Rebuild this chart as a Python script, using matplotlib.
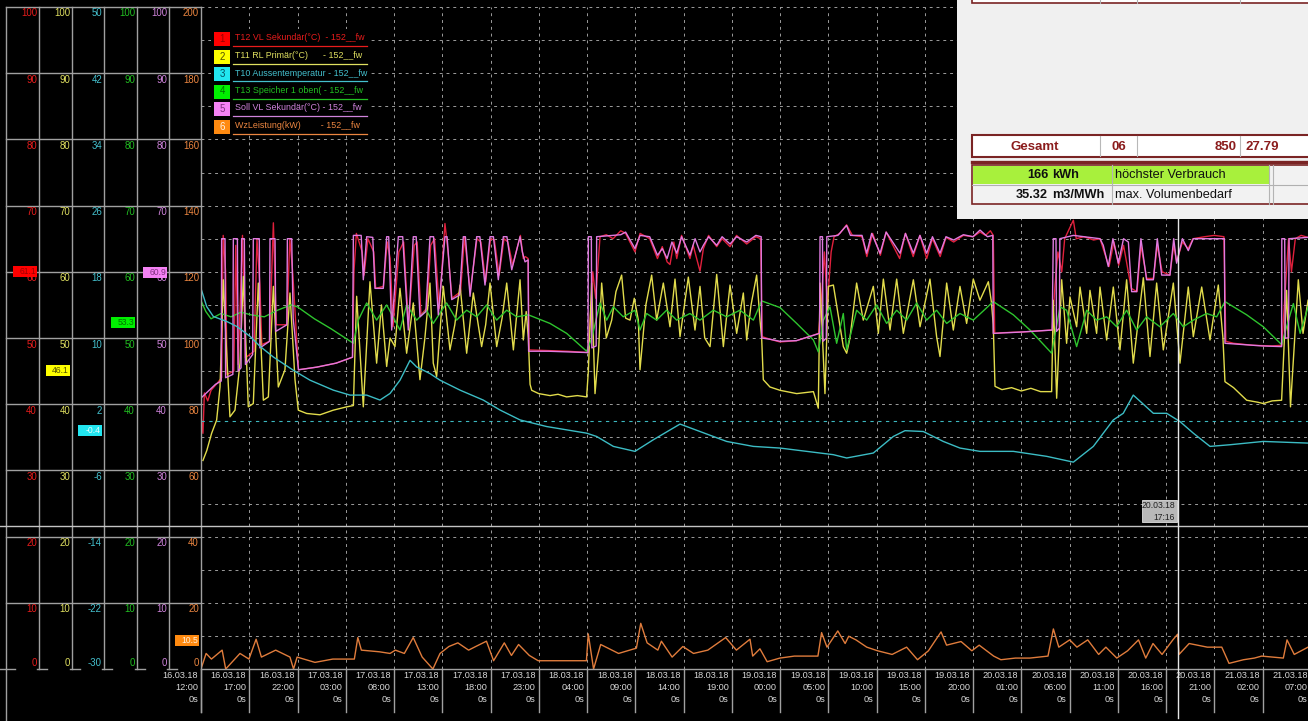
import matplotlib
matplotlib.use("Agg")
import matplotlib.pyplot as plt
from matplotlib.patches import Rectangle
from matplotlib.font_manager import FontProperties, findfont

# ---------------- data ----------------
series_labels = ["T12 VL Sekundär(°C)  - 152__fw",
                 "T11 RL Primär(°C)      - 152__fw",
                 "T10 Aussentemperatur - 152__fw",
                 "T13 Speicher 1 oben( - 152__fw",
                 "Soll VL Sekundär(°C) - 152__fw",
                 "WzLeistung(kW)        - 152__fw"]

tick_hours = list(range(0, 120, 5))
tick_dates = (["16.03.18"] * 3 + ["17.03.18"] * 5 + ["18.03.18"] * 4 +
              ["19.03.18"] * 5 + ["20.03.18"] * 5 + ["21.03.18"] * 2)
tick_times = ["12:00", "17:00", "22:00", "03:00", "08:00", "13:00", "18:00", "23:00",
              "04:00", "09:00", "14:00", "19:00", "00:00", "05:00", "10:00", "15:00",
              "20:00", "01:00", "06:00", "11:00", "16:00", "21:00", "02:00", "07:00"]

red_ticks = [0, 10, 20, 30, 40, 50, 60, 70, 80, 90, 100]
yel_ticks = [0, 10, 20, 30, 40, 50, 60, 70, 80, 90, 100]
cyan_ticks = [-30, -22, -14, -6, 2, 10, 18, 26, 34, 42, 50]
green_ticks = [0, 10, 20, 30, 40, 50, 60, 70, 80, 90, 100]
violet_ticks = [0, 10, 20, 30, 40, 50, 60, 70, 80, 90, 100]
orange_ticks = [0, 20, 40, 60, 80, 100, 120, 140, 160, 180, 200]

current_vals = [61.1, 46.1, -0.4, 53.3, 60.9, 10.5]
current_texts = ["61.1", "46.1", "-0.4", "53.3", "60.9", "10.5"]

cursor_hour = 101.27
cursor_label = ["20.03.18", "17:16"]

gesamt_row = ["Gesamt", "06", "850", "27.79"]
summary_rows = [["166", "kWh", "höchster Verbrauch"],
                ["35.32", "m3/MWh", "max. Volumenbedarf"]]

# (hours since 16.03.18 12:00, value)
red_pts = [(0.05,37.6),(0.2,35.6),(0.35,41.7),(0.7,40.5),(1.04,42.1),(1.7,43.2),(2.14,44.0),(2.3,65.5),(2.55,60.0),(2.7,44.5),(3.4,45.0),(3.6,64.0),(3.85,46.0),(4.3,65.5),(4.6,47.0),(5.5,48.0),(5.8,65.0),(6.1,58.0),(6.3,49.0),(7.1,49.5),(7.5,67.4),(7.8,52.0),(8.9,52.0),(9.2,65.0),(9.5,60.0),(9.9,50.0),(10.1,45.2),(12.0,45.6),(14.0,46.2),(15.7,47.1),
(15.85,60.0),(16.1,65.8),(16.7,63.0),(16.9,59.5),(17.3,65.0),(17.9,63.0),(18.1,57.5),(18.9,57.8),(19.3,64.5),(19.6,62.0),(19.9,51.7),(20.5,63.0),(21.0,64.5),(21.5,52.0),(22.1,64.0),(22.4,64.5),(22.8,53.5),(23.4,54.5),(23.8,64.0),(24.2,65.0),(24.7,54.5),(25.28,67.3),(25.6,63.0),(26.0,56.0),(26.9,57.0),(27.3,65.3),(27.9,57.0),(28.6,65.0),(29.0,64.5),(29.5,58.5),(30.0,65.0),(30.4,64.8),(30.9,59.5),(31.4,65.0),(31.8,64.5),(32.3,61.0),(33.1,65.5),(33.4,62.0),(33.6,62.3),(33.9,62.0),(34.0,48.2),
(36.0,48.1),(38.0,48.0),(40.1,47.8),
(40.3,52.0),(40.6,60.0),(40.9,56.0),(41.35,65.3),(42.0,65.6),(42.7,65.0),(43.5,66.2),(44.0,65.8),(44.97,63.0),(45.5,65.8),(46.5,65.0),(47.3,62.0),(47.8,63.8),(48.3,61.5),(48.6,61.1),(49.0,64.5),(49.3,62.0),(49.8,65.5),(50.67,62.0),(51.0,64.0),(51.71,60.1),(52.06,63.5),(52.6,65.5),(53.44,63.8),(54.0,65.0),(54.82,63.8),(55.5,65.5),(56.55,64.2),(57.5,65.3),(58.0,65.0),(58.15,50.2),
(59.0,49.8),(60.0,49.4),(61.7,49.6),(63.0,50.2),(64.0,50.7),
(64.3,56.0),(64.6,63.0),(64.9,55.0),(65.3,63.0),(65.6,65.3),(66.2,65.8),(66.9,67.1),(67.5,65.5),(68.5,65.3),(69.0,62.3),(69.6,65.8),(70.4,62.5),(71.0,66.0),(72.4,62.0),(73.0,65.8),(73.8,62.3),(74.5,65.5),(75.2,62.0),(75.8,65.0),(76.6,62.3),(77.2,65.2),(78.0,64.5),(79.0,65.5),(80.0,65.3),(80.73,66.0),(81.3,65.5),(81.8,66.2),(82.1,65.5),(82.25,50.7),
(83.0,50.8),(85.0,50.9),(87.0,51.1),(88.2,51.2),
(88.5,58.0),(88.8,63.0),(89.2,60.0),(89.5,65.0),(90.4,67.8),(90.7,65.0),(91.5,65.3),(92.5,64.8),(93.16,65.0),(93.6,63.0),(94.1,60.8),(94.6,64.5),(95.1,61.0),(95.6,64.0),(96.4,57.5),(97.0,57.0),(97.4,64.0),(98.0,59.0),(98.7,59.0),(99.1,64.0),(99.6,60.0),(100.4,59.5),(100.8,64.0),(101.1,61.5),(101.7,64.5),(102.3,63.5),(102.8,65.0),(104.0,65.3),(105.0,65.5),(106.0,65.3),(106.2,49.5),
(107.0,49.2),(109.0,48.9),(111.0,48.8),(112.0,48.9),(112.4,58.0),(112.7,65.0),(113.0,60.0),(113.4,65.0),(114.0,65.5),(114.72,65.2)]

violet_pts = [(0.05,41.0),(1.5,43.0),(2.1,43.5),(2.14,65.0),(2.49,65.0),(2.55,44.0),(3.3,44.5),(3.35,65.0),(3.77,65.0),(3.85,45.0),(4.15,45.5),(4.21,65.0),(4.49,65.0),(4.6,46.0),(5.35,47.5),(5.42,65.0),(6.04,65.0),(6.1,48.5),(7.1,49.5),(7.15,65.0),(7.67,65.0),(7.75,51.0),(8.9,52.0),(8.95,65.0),(9.4,65.0),(9.55,53.0),(10.05,46.0),(10.1,45.2),(12.0,45.6),(14.0,46.2),(15.7,47.1),
(15.79,65.5),(16.6,65.5),(16.82,58.8),(17.17,65.3),(17.8,65.2),(18.03,57.5),(18.89,57.5),(19.24,65.3),(19.45,65.3),(19.76,51.2),(20.45,65.3),(20.9,65.3),(21.48,51.2),(22.0,65.3),(22.3,65.3),(22.69,53.2),(23.3,54.0),(23.73,65.3),(24.1,65.3),(24.59,53.5),(25.28,65.3),(25.5,65.3),(25.98,55.8),(26.8,56.5),(27.18,65.3),(27.4,65.3),(27.88,56.3),(28.57,65.3),(28.9,65.3),(29.43,58.0),(29.95,65.3),(30.3,65.3),(30.81,58.8),(31.33,65.3),(31.7,65.3),(32.2,60.3),(33.06,65.3),(33.3,63.0),(33.58,61.5),(33.9,61.8),(33.95,48.0),
(36.0,48.0),(38.0,47.9),(40.1,47.8),
(40.14,65.3),(40.45,65.3),(40.5,48.5),(40.95,48.8),(41.0,65.3),(43.5,65.6),(44.0,66.0),(44.97,63.5),(45.5,65.5),(46.5,65.3),(47.3,62.5),(47.8,63.5),(48.3,62.0),(48.8,64.5),(49.3,62.8),(49.8,65.3),(50.67,62.5),(51.2,65.0),(51.71,63.0),(52.06,64.0),(52.6,65.3),(53.44,64.0),(54.0,65.3),(54.82,64.2),(55.5,65.3),(56.55,64.5),(57.5,65.5),(58.05,65.3),(58.1,50.0),
(59.0,49.8),(60.0,49.5),(61.7,49.6),(63.0,50.2),(64.1,50.7),
(64.15,65.3),(64.4,65.3),(64.45,49.5),(64.8,50.0),(64.85,65.3),(66.0,65.5),(66.9,67.0),(67.3,65.5),(68.5,65.5),(68.98,62.8),(69.5,65.8),(70.37,62.8),(71.0,66.0),(72.44,62.8),(73.0,65.8),(73.82,62.8),(74.5,65.5),(75.2,62.8),(75.8,65.3),(76.58,62.8),(77.2,65.3),(78.0,64.8),(79.0,65.6),(80.0,65.3),(80.73,66.3),(81.5,65.3),(82.05,65.5),(82.1,50.7),
(85.0,50.9),(88.2,51.2),
(88.32,65.0),(88.6,65.0),(88.65,51.0),(88.95,51.5),(89.0,65.0),(90.4,65.5),(91.5,65.3),(93.16,65.0),(93.5,64.0),(94.02,60.8),(94.5,65.0),(95.06,61.3),(95.6,65.0),(96.1,64.5),(96.44,57.0),(96.96,57.0),(97.4,65.0),(97.99,58.8),(98.69,58.8),(99.1,65.0),(99.55,59.5),(100.41,59.5),(100.8,65.0),(101.1,61.3),(101.7,65.0),(102.31,63.2),(102.83,65.0),(106.05,65.0),(106.11,49.2),
(108.0,49.0),(110.0,48.8),(111.98,48.7),(112.0,65.0),(112.3,65.0),(112.35,50.0),(112.7,50.0),(112.75,65.0),(114.72,65.2)]

yel_pts = [(0.2,31.5),(0.6,33.0),(1.1,35.6),(1.62,37.6),(1.97,42.6),(2.31,58.8),(2.66,47.7),(3.0,38.1),(3.52,39.1),(4.04,46.2),(4.39,59.3),(4.9,39.6),(5.42,40.1),(5.94,58.3),(6.46,40.6),(6.98,41.1),(7.5,57.8),(8.01,42.6),(8.7,45.2),(9.22,56.8),(9.74,43.7),(10.08,39.1),(10.95,38.6),(12.33,38.4),(13.71,39.1),(15.1,39.6),(15.79,39.8),
(16.13,56.3),(16.82,39.6),(17.51,58.5),(18.2,46.2),(18.7,55.0),(19.24,45.7),(19.59,50.0),(20.1,48.7),(20.62,57.5),(21.31,47.7),(22.0,55.3),(22.69,43.7),(23.2,50.0),(23.73,58.3),(24.07,46.2),(24.42,44.2),(25.11,57.8),(25.8,48.2),(26.3,52.0),(26.84,58.0),(27.53,47.7),(28.22,56.8),(29.08,48.7),(29.5,52.0),(29.95,58.3),(30.64,48.7),(31.2,53.0),(31.68,58.3),(32.37,48.2),(33.06,58.8),(33.4,49.7),(33.7,54.0),(33.92,50.0),(34.1,43.0),(34.27,42.1),(35.0,41.6),(36.17,41.3),(37.0,41.5),(37.89,41.1),(39.0,41.3),(39.96,41.1),
(40.14,45.0),(40.48,58.3),(40.83,41.6),(41.2,48.0),(41.52,58.3),(42.0,50.0),(42.56,52.7),(43.0,57.0),(43.59,59.5),(44.0,53.0),(44.46,52.7),(44.9,56.0),(45.32,52.7),(45.49,45.2),(46.1,55.0),(46.7,59.5),(47.22,52.7),(47.91,58.3),(48.6,51.7),(49.12,58.9),(49.64,50.2),(50.5,59.2),(51.19,51.2),(51.71,57.8),(52.2,50.0),(52.75,48.7),(53.44,59.6),(54.13,48.7),(54.82,58.0),(55.51,50.7),(56.2,56.8),(56.55,49.7),(57.0,55.0),(57.58,59.5),(57.93,52.7),(58.1,50.0),(58.27,43.7),(58.96,42.6),(60.0,42.1),(61.73,41.6),(63.46,41.9),(63.97,39.4),
(64.15,58.3),(64.66,41.6),(65.01,57.8),(65.53,58.0),(66.56,48.7),(66.91,47.7),(67.25,50.0),(67.94,58.3),(68.63,52.7),(69.67,57.8),(70.19,50.7),(70.71,58.9),(71.4,51.2),(72.09,58.9),(72.78,50.7),(73.82,58.8),(74.51,51.7),(75.54,58.9),(76.23,50.2),(76.58,47.2),(77.27,58.3),(77.96,51.2),(78.65,57.8),(79.34,52.2),(80.03,58.9),(80.72,55.7),(81.59,58.5),(81.9,55.5),(82.1,52.0),(82.28,42.7),(83.0,42.2),(84.0,42.5),(85.0,42.0),(86.0,42.4),(87.0,41.9),(88.15,41.9),
(88.32,55.7),(88.67,40.9),(89.19,58.8),(89.7,49.2),(90.05,56.2),(90.74,51.7),(91.09,57.7),(91.78,50.7),(92.12,57.2),(92.81,50.7),(93.16,57.7),(93.85,49.7),(94.54,57.7),(95.23,48.2),(95.92,58.8),(96.61,46.2),(97.65,59.1),(98.34,47.2),(99.03,58.3),(99.72,48.2),(100.76,58.3),(101.45,46.2),(102.31,57.7),(102.83,50.2),(103.7,57.7),(104.56,49.7),(105.42,58.0),(105.9,50.0),(106.11,43.4),(107.0,42.5),(108.36,40.6),(109.5,40.3),(110.08,40.1),(111.0,40.5),(111.98,40.6),(112.5,57.2),(112.9,39.6),(113.71,58.8),(114.2,50.7),(114.72,55.7)]

green_pts = [(0.05,55.5),(0.5,54.0),(1.04,52.9),(2.07,53.7),(3.11,53.2),(4.15,53.9),(5.18,53.5),(6.56,53.2),(7.94,54.2),(9.33,55.0),(10.0,54.7),(11.75,52.9),(13.47,51.4),(15.79,49.2),
(16.3,52.7),(17.17,55.3),(18.2,52.7),(19.24,55.0),(20.62,51.2),(21.31,55.0),(22.35,52.7),(23.38,54.2),(24.07,52.2),(25.45,55.3),(26.49,52.7),(27.53,54.2),(28.57,53.2),(29.6,55.0),(30.64,52.7),(31.68,54.2),(32.72,53.2),(33.92,53.5),
(36.17,52.2),(37.89,50.7),(39.96,48.0),
(40.5,50.0),(41.35,55.3),(42.04,52.7),(42.73,54.7),(43.76,53.2),(44.97,54.2),(45.49,51.2),(46.18,53.7),(47.22,52.7),(48.25,54.2),(49.29,52.7),(50.67,53.7),(51.71,52.7),(53.09,54.2),(54.47,53.2),(55.85,54.2),(57.24,52.7),(58.1,55.6),
(60.0,54.6),(61.73,52.2),(63.46,49.7),(63.97,47.9),
(64.5,52.7),(65.18,54.7),(65.87,49.2),(66.56,53.7),(66.91,48.2),(67.94,54.2),(68.98,52.7),(70.02,55.0),(71.05,52.2),(72.09,54.2),(73.13,52.7),(74.16,55.3),(75.2,52.7),(76.23,54.2),(77.27,52.2),(78.65,53.7),(80.03,52.7),(81.0,54.0),(82.1,55.5),
(84.18,53.5),(85.91,51.2),(88.15,47.7),
(89.02,54.7),(89.7,54.2),(90.74,48.7),(91.78,54.2),(92.81,52.7),(93.85,53.2),(94.88,51.7),(95.92,54.2),(96.96,51.2),(97.99,53.2),(99.37,51.7),(100.76,53.7),(101.79,51.7),(102.83,52.7),(104.21,53.7),(105.25,53.2),(106.11,55.5),
(108.36,53.5),(110.08,51.7),(111.98,49.0),(112.5,51.7),(113.2,55.2),(113.9,50.7),(114.72,54.7)]

cyan_pts = [(0.05,15.8),(0.59,13.8),(1.28,12.6),(2.66,12.0),(3.7,11.4),(5.08,10.2),(6.11,9.0),(7.5,7.7),(9.57,6.1),(11.3,4.9),(13.71,3.7),(15.44,3.1),(17.17,3.1),(18.55,2.5),(19.59,3.3),(20.62,4.9),(21.66,7.3),(22.35,6.5),(23.73,5.7),(24.77,4.9),(26.84,3.7),(29.25,2.5),(30.98,1.3),(33.06,0.1),(35.82,-0.7),(37.89,-1.1),(39.96,-1.5),(41.0,-1.9),(42.73,-3.1),(44.97,-3.7),(46.87,-2.3),(49.64,-0.4),(51.71,-1.3),(54.47,-2.5),(57.24,-3.1),(60.0,-3.3),(62.77,-3.7),(65.53,-4.1),(66.91,-4.5),(69.67,-3.9),(71.74,-1.9),(72.95,-1.2),(74.85,-1.3),(76.92,-2.5),(78.65,-3.3),(80.72,-3.7),(84.18,-3.7),(87.63,-4.3),(90.4,-5.0),(92.47,-3.1),(94.54,0.1),(95.57,0.9),(96.61,3.1),(98.69,0.9),(100.07,0.9),(101.45,-0.1),(102.83,-1.5),(104.56,-3.1),(106.63,-2.9),(110.08,-2.5),(114.72,-2.7)]

orange_pts = [(0.0,0.0),(0.53,4.7),(1.08,3.0),(2.19,5.7),(2.56,0.0),(4.04,4.7),(4.97,3.0),(5.71,9.0),(6.26,3.6),(7.74,5.7),(9.22,3.6),(9.59,0.0),(9.96,3.6),(11.81,2.0),(13.66,3.0),(15.89,3.0),(16.25,9.5),(16.62,5.7),(18.48,5.2),(19.59,4.7),(20.14,5.7),(21.07,4.7),(21.99,9.5),(22.92,3.6),(24.03,0.0),(24.77,4.7),(25.69,6.8),(26.62,7.9),(27.73,5.7),(28.47,6.8),(29.58,8.4),(30.32,2.5),(31.43,7.9),(32.17,4.1),(32.91,7.4),(34.02,4.1),(34.94,2.5),(35.87,2.5),(39.94,2.5),(40.13,10.6),(40.68,0.0),(41.42,7.4),(43.27,4.7),(45.12,6.3),(45.57,13.8),(46.23,7.9),(47.34,5.7),(47.71,8.4),(48.82,3.6),(49.93,6.8),(51.04,4.7),(52.52,5.7),(54.37,9.5),(55.48,5.7),(56.89,9.0),
(57.17,3.9),(57.92,6.1),(58.67,2.2),(59.99,3.3),(61.49,3.9),(63.93,3.9),(64.31,11.0),(64.87,6.6),(65.99,11.5),(66.75,7.7),(67.12,9.9),(67.87,8.8),(68.99,6.6),(70.12,5.5),(71.62,4.4),(73.12,6.6),(74.25,2.8),(75.38,5.5),(76.69,11.2),(77.26,7.2),(78.76,8.3),(79.88,5.5),(80.64,7.2),(82.14,3.9),(82.89,2.8),(84.39,3.3),(85.89,3.3),(87.77,3.9),(88.33,12.1),(88.89,6.6),(90.02,8.8),(90.77,6.6),(91.89,8.8),(93.02,4.4),(93.77,6.6),(94.9,3.3),(96.02,5.5),(97.15,8.8),(97.9,3.3),(98.65,7.7),(99.59,4.4),(100.71,8.8),(101.2,10.5),(101.35,4.4),(102.4,7.7),(104.28,6.6),(105.78,6.6),(106.53,1.7),(108.03,2.8),(109.16,3.3),(109.91,3.9),(112.16,3.3),(112.54,8.8),(113.29,4.4),(114.72,6.6)]

# ---------------- styling ----------------
line_colors = ["#e0203c", "#e2dc4c", "#3cbcc4", "#2ec42e", "#e07ae0", "#e07c3c"]
label_colors = ["#e81c1c", "#e0e060", "#44c0ce", "#22c022", "#d084dc", "#ec8640"]
box_colors = ["#ff0000", "#ffff00", "#22e6f0", "#00f000", "#f482f4", "#ff8a10"]
box_text_colors = ["#9a0000", "#505000", "#e8ffff", "#007000", "#803080", "#fff2e0"]


def _font_ok(name):
    try:
        findfont(FontProperties(family=name), fallback_to_default=False)
        return True
    except Exception:
        return False


HAS_NARROW = _font_ok("Liberation Sans Narrow")
NARROW = "Liberation Sans Narrow" if HAS_NARROW else "Liberation Sans"
NF = [NARROW, "DejaVu Sans"]
FS_PANEL = 7.3 if HAS_NARROW else 6.9
FS_TICK = 7.4 if HAS_NARROW else 6.6
FS_LEG = 7.6 if HAS_NARROW else 6.4
FS_BOX = 7.0 if HAS_NARROW else 6.2

W, H = 1308, 721
fig = plt.figure(figsize=(W / 100, H / 100), dpi=100)
fig.patch.set_facecolor("black")

PLOT_L, PLOT_R, PLOT_T, PLOT_B = 201, 1308, 7, 669
PX_PER_HOUR = 48.25 / 5
ax = fig.add_axes([PLOT_L / W, (H - PLOT_B) / H, (PLOT_R - PLOT_L) / W, (PLOT_B - PLOT_T) / H])
ax.set_xlim(0, (PLOT_R - PLOT_L) / PX_PER_HOUR)
ax.set_ylim(0, 100)
ax.axis("off")
ax_c = ax.twinx()
ax_c.set_ylim(-30, 50)
ax_c.axis("off")
ax_o = ax.twinx()
ax_o.set_ylim(0, 200)
ax_o.axis("off")


def xpix(h):
    return ax.transData.transform((h, 0))[0]


def ypix(a, v):
    return H - a.transData.transform((0, v))[1]


GRID = "#9c9c9c"
DOT = (0, (3, 4))
for v in range(5, 101, 5):
    ax.axhline(v, color=GRID, lw=0.7, ls=DOT, zorder=0)
for hh in tick_hours[1:]:
    ax.axvline(hh, color=GRID, lw=0.7, ls=DOT, zorder=0)
ax_c.axhline(0, color="#3cb8c0", lw=0.8, ls=DOT, zorder=0)


def unzip(pts):
    return [p[0] for p in pts], [p[1] for p in pts]


for pts, col, a in [(red_pts, line_colors[0], ax), (yel_pts, line_colors[1], ax),
                    (green_pts, line_colors[3], ax), (violet_pts, line_colors[4], ax),
                    (cyan_pts, line_colors[2], ax_c), (orange_pts, line_colors[5], ax_o)]:
    t, v = unzip(pts)
    a.plot(t, v, color=col, lw=1.0, zorder=2)

# ---------------- overlay (pixel coordinates) ----------------
ov = fig.add_axes([0, 0, 1, 1], zorder=10)
ov.set_xlim(0, W)
ov.set_ylim(H, 0)
ov.axis("off")

PANEL = "#a0a0a0"
col_edges = [6, 39, 72, 104, 137, 169, 201]
col_axes = [ax, ax, ax_c, ax, ax, ax_o]
col_ticks = [red_ticks, yel_ticks, cyan_ticks, green_ticks, violet_ticks, orange_ticks]
y_top = ypix(ax, 100)
y_bot = ypix(ax, 0)

for t in red_ticks[1:]:
    y = ypix(ax, t)
    ov.plot([col_edges[0], col_edges[-1]], [y, y], color=PANEL, lw=1)
ov.plot([col_edges[0]] * 2, [y_top, H], color=PANEL, lw=1)
for xe in col_edges[1:-1]:
    ov.plot([xe, xe], [y_top, y_bot], color=PANEL, lw=1)
    ov.plot([xe - 2, xe + 8], [y_bot, y_bot], color=PANEL, lw=1)
ov.plot([0, 15], [y_bot, y_bot], color=PANEL, lw=1)
ov.plot([col_edges[-1]] * 2, [y_top, 712], color=PANEL, lw=1)
ov.plot([col_edges[-1], W], [y_bot, y_bot], color=PANEL, lw=1)
ov.plot([0, W], [526, 526], color="#c4c4c4", lw=1)

for i in range(6):
    a = col_axes[i]
    right = col_edges[i + 1]
    for t in col_ticks[i]:
        y = ypix(a, t)
        yy = y - 6 if t == col_ticks[i][0] else y + 6.5
        ov.text(right - 2, yy, str(t), ha="right", va="center", color=label_colors[i],
                fontsize=FS_PANEL, family=NF)
for i in range(6):
    y = ypix(col_axes[i], current_vals[i])
    right = col_edges[i + 1]
    ov.add_patch(Rectangle((right - 26, y + 1), 24, 11, facecolor=box_colors[i],
                           edgecolor="none", zorder=5))
    ov.text(right - 3, y + 6.5, current_texts[i], ha="right", va="center",
            fontsize=FS_BOX, color=box_text_colors[i], family=NF, zorder=6)

# legend
ov.add_patch(Rectangle((211, 29), 158, 106, facecolor="black", edgecolor="none", zorder=1))
for i, name in enumerate(series_labels):
    yc = 39 + i * 17.5
    ov.add_patch(Rectangle((214, yc - 7), 16, 14, facecolor=box_colors[i], edgecolor="none", zorder=2))
    ov.text(222, yc, str(i + 1), ha="center", va="center", fontsize=FS_LEG + 0.6,
            color=box_text_colors[i] if i != 2 else "#005060", family=NF, zorder=3)
    ov.text(235, yc - 1, name, ha="left", va="center", fontsize=FS_LEG,
            color=label_colors[i], family=NF, zorder=3)
    ov.plot([233, 367], [yc + 7, yc + 7], color=label_colors[i], lw=0.9, zorder=3)

# x tick labels
for k, hh in enumerate(tick_hours):
    x = xpix(hh)
    ov.plot([x, x], [y_bot, 712], color=PANEL, lw=1)
    for j, s in enumerate([tick_dates[k], tick_times[k], "0s"]):
        ov.text(x - 3, 676 + 11.5 * j, s, ha="right", va="center", fontsize=FS_TICK,
                color="#d8d8d8", family=NF)

# cursor
xc = xpix(cursor_hour)
ov.plot([xc, xc], [219, 718], color="#e6e6e6", lw=1, zorder=4)
ov.add_patch(Rectangle((xc - 36, 500), 35, 22, facecolor="#b8b8b8", edgecolor="#e0e0e0",
                       lw=0.6, zorder=5))
ov.text(xc - 3, 506, cursor_label[0], ha="right", va="center", fontsize=FS_BOX,
        color="#202020", family=NF, zorder=6)
ov.text(xc - 3, 517, cursor_label[1], ha="right", va="center", fontsize=FS_BOX,
        color="#202020", family=NF, zorder=6)

# table panel
TB = "#7a2424"
TXT_RED = "#8b1c1c"
ov.add_patch(Rectangle((957, -2), W - 957 + 2, 221, facecolor="#f0f0f0", edgecolor="none", zorder=6))
ov.add_patch(Rectangle((972, -6), W - 972 + 6, 9, facecolor="white", edgecolor=TB, lw=1.2, zorder=7))
for xd in [1100, 1137, 1240]:
    ov.plot([xd, xd], [0, 3], color="#b0b0b0", lw=0.8, zorder=8)
ov.add_patch(Rectangle((972, 135), W - 972 + 6, 22, facecolor="white", edgecolor=TB, lw=1.5, zorder=7))
for xd in [1100, 1137, 1240]:
    ov.plot([xd, xd], [136, 156], color="#b8b8b8", lw=0.8, zorder=8)
tbl_font = ["Liberation Sans", "DejaVu Sans"]
ov.text(1035, 146.5, gesamt_row[0], ha="center", va="center", fontsize=9.5, weight="bold",
        color=TXT_RED, family=tbl_font, zorder=9)
ov.text(1112, 146.5, gesamt_row[1], ha="left", va="center", fontsize=9.5, weight="bold",
        color=TXT_RED, family=tbl_font, zorder=9)
ov.text(1237, 146.5, gesamt_row[2], ha="right", va="center", fontsize=9.5, weight="bold",
        color=TXT_RED, family=tbl_font, zorder=9)
ov.text(1245, 146.5, gesamt_row[3], ha="left", va="center", fontsize=9.5, weight="bold",
        color=TXT_RED, family=tbl_font, zorder=9)
ov.plot([972, W], [161.5, 161.5], color=TB, lw=2.4, zorder=8)
ov.add_patch(Rectangle((972, 165), W - 972 + 6, 39, facecolor="#f2f2f2", edgecolor=TB, lw=1.2, zorder=7))
ov.add_patch(Rectangle((973, 166), 1269 - 973, 18, facecolor="#a8f03c", edgecolor="none", zorder=7.5))
ov.plot([972, W], [184.5, 184.5], color="#b0b0b0", lw=0.8, zorder=8)
for xd in [1112, 1269, 1273]:
    ov.plot([xd, xd], [165, 204], color="#b4b4b4", lw=0.8, zorder=8)
for r, row in enumerate(summary_rows):
    yy = 175 + r * 19.5
    ov.text(1048, yy, row[0], ha="right", va="center", fontsize=9.2, weight="bold",
            color="#101010", family=tbl_font, zorder=9)
    ov.text(1052, yy, row[1], ha="left", va="center", fontsize=9.2, weight="bold",
            color="#101010", family=tbl_font, zorder=9)
    ov.text(1115, yy, row[2], ha="left", va="center", fontsize=9.2,
            color="#101010", family=tbl_font, zorder=9)

fig.savefig("out.png", dpi=100, facecolor="black")
